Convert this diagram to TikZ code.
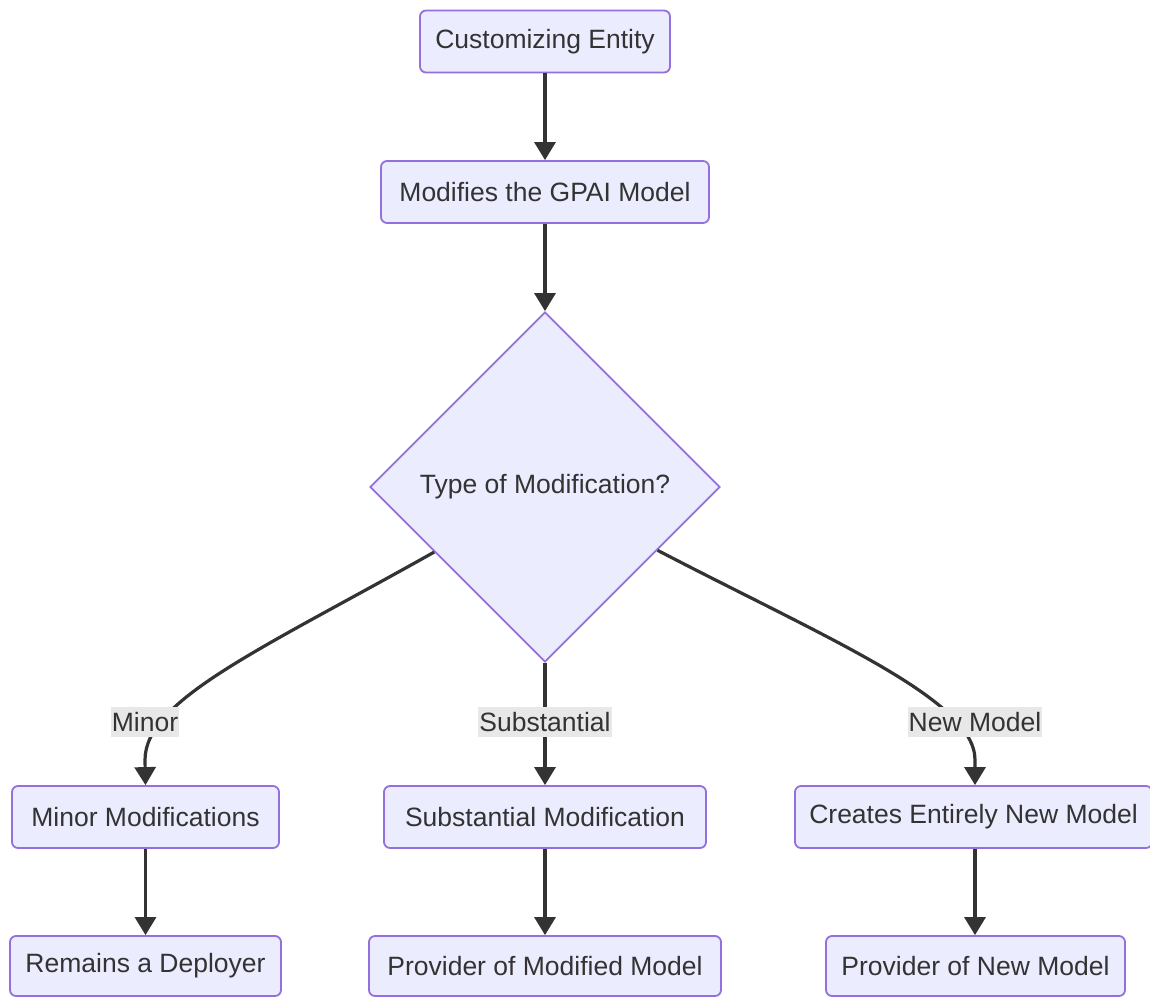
\documentclass[tikz,border=0pt]{standalone}
\usepackage{fontspec}
\setmainfont{Liberation Sans}
\usetikzlibrary{shapes.geometric,arrows.meta,calc}
\definecolor{nodefill}{HTML}{ECECFF}
\definecolor{nodeborder}{HTML}{9370DB}
\definecolor{edgecol}{HTML}{333333}
\definecolor{lblfill}{HTML}{E8E8E8}
\tikzset{
  box/.style={draw=nodeborder, fill=nodefill, line width=1.8pt, rounded corners=6pt,
    minimum height=62pt, inner sep=0pt, text=edgecol, font=\fontsize{26.5}{30}\selectfont},
  dec/.style={draw=nodeborder, fill=nodefill, line width=1.8pt, diamond, aspect=1,
    minimum width=350pt, minimum height=350pt, inner sep=0pt, text=edgecol, font=\fontsize{26.5}{30}\selectfont},
  edge/.style={draw=edgecol, line width=3.2pt, -{Triangle[length=18pt,width=21pt]}},
  lbl/.style={fill=lblfill, inner xsep=1pt, inner ysep=5pt, text=edgecol, font=\fontsize{26.5}{30}\selectfont}
}
\begin{document}
\begin{tikzpicture}[x=1pt,y=-1pt]
\useasboundingbox (0,0) rectangle (1150,998);
\node[box, minimum width=250pt] (ce) at (545,41.5) {Customizing Entity};
\node[box, minimum width=328pt] (mod) at (545,192) {Modifies the GPAI Model};
\node[dec] (dia) at (545,487) {Type of Modification?};
\node[box, minimum width=267pt] (minor) at (145.5,817) {Minor Modifications};
\node[box, minimum width=322pt] (subst) at (545,817) {Substantial Modification};
\node[box, minimum width=357pt] (newm) at (973.5,817) {Creates Entirely New Model};
\node[box, minimum width=271pt, minimum height=60pt] (deploy) at (145.5,966) {Remains a Deployer};
\node[box, minimum width=352pt, minimum height=60pt] (provmod) at (545,966) {Provider of Modified Model};
\node[box, minimum width=299pt, minimum height=60pt] (provnew) at (975.5,966) {Provider of New Model};

\coordinate (dl) at ($(dia.west)!0.37!(dia.south)$);
\coordinate (dr) at ($(dia.east)!0.36!(dia.south)$);

\draw[edge] (ce) -- (mod);
\draw[edge] (mod) -- (dia.north);
\draw[edge] (dl) .. controls (260,650) and (145,700) .. (145,760) -- (minor.north);
\draw[edge] (dia.south) -- (subst.north);
\draw[edge] (dr) .. controls (830,640) and (975,700) .. (975,760) -- (newm.north -| 975,0);
\draw[edge] (minor) -- (deploy);
\draw[edge] (subst) -- (provmod);
\draw[edge] (newm.south -| 975,0) -- (provnew.north -| 975,0);

\node[lbl] (lminor) at (145,722) {Minor};
\node[lbl] (lsubst) at (545,722) {Substantial};
\node[lbl] (lnew) at (975,722) {New Model};
\end{tikzpicture}
\end{document}
